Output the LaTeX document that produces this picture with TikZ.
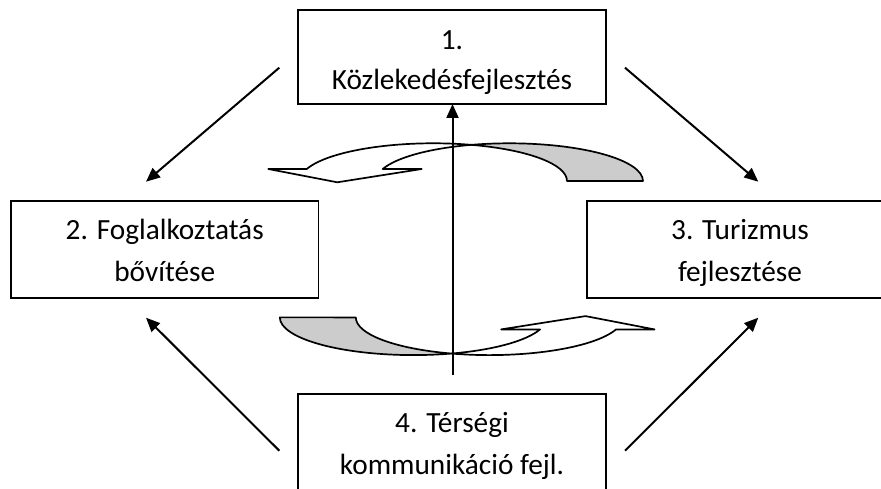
\documentclass[tikz,border=0pt]{standalone}
\usepackage{fontspec}
\setmainfont{Carlito}
\usetikzlibrary{arrows.meta}
\tikzset{
  x=1pt, y=1pt,
  boxnode/.style={draw=black, line width=1.8pt, fill=white, rectangle, inner sep=0pt, outer sep=0pt},
  lbl/.style={inner sep=0pt, anchor=base, font=\fontsize{29.3}{41}\selectfont},
  arr/.style={line width=2pt, -{Triangle[length=14pt,width=12pt]}},
  band/.style={draw=black, line width=1.7pt, line join=round},
  backface/.style={band, fill=black!20},
  frontface/.style={band, fill=white},
}
\newcommand{\curvedband}{%
  \path[backface] (471.4,343.14)
     arc[start angle=106.52, end angle=0, x radius=133.6pt, y radius=37.7pt]
     -- (567,307)
     arc[start angle=0, end angle=73.48, x radius=133.6pt, y radius=37.7pt]
     -- cycle;
  \path[frontface] (268.3,319) -- (306.75,319)
     arc[start angle=161.44, end angle=73.48, x radius=133.6pt, y radius=37.7pt]
     arc[start angle=106.52, end angle=161.44, x radius=133.6pt, y radius=37.7pt]
     -- (421.7,319) -- (337.3,305.7) -- cycle;
}
\begin{document}
\begin{tikzpicture}
\useasboundingbox (0,0) rectangle (881,488);
\clip (0,0) rectangle (881,488);
\fill[white] (0,0) rectangle (881,488);

% boxes
\node[boxnode, minimum width=308pt, minimum height=94pt] (n1) at (452,431) {};
\node[boxnode, minimum width=307.5pt, minimum height=97pt] (n2) at (164.75,238.5) {};
\node[boxnode, minimum width=306pt, minimum height=97pt] (n3) at (740,238.5) {};
\node[boxnode, minimum width=308pt, minimum height=96pt] (n4) at (452,46) {};

% texts
\node[lbl] (t1a) at ([yshift=-39.3pt]n1.north) {1.};
\node[lbl] (t1b) at ([yshift=-80pt]n1.north) {Közlekedésfejlesztés};
\node[lbl] (t2a) at ([yshift=-39pt]n2.north) {2. Foglalkoztatás};
\node[lbl] (t2b) at ([yshift=-80pt]n2.north) {bővítése};
\node[lbl] (t3a) at ([yshift=-39pt]n3.north) {3. Turizmus};
\node[lbl] (t3b) at ([yshift=-80pt]n3.north) {fejlesztése};
\node[lbl] (t4a) at ([yshift=-38pt]n4.north) {4. Térségi};
\node[lbl] (t4b) at ([yshift=-80pt]n4.north) {kommunikáció fejl.};

% curved arrows
\curvedband
\begin{scope}[rotate around={180:(461.4,238.8)}]
\curvedband
\end{scope}

% diagonal arrows
\coordinate (a1s) at (279.3,420.3);
\coordinate (a1e) at (146,306.3);
\coordinate (a2s) at (625,420.3);
\coordinate (a2e) at (758.3,306.3);
\coordinate (a3s) at (279.3,37.3);
\coordinate (a3e) at (146,170.3);
\coordinate (a4s) at (625,37.3);
\coordinate (a4e) at (758.3,170.3);
\draw[arr] (a1s) -- (a1e);
\draw[arr] (a2s) -- (a2e);
\draw[arr] (a3s) -- (a3e);
\draw[arr] (a4s) -- (a4e);

% vertical arrow
\coordinate (v0) at (452.5,113);
\draw[arr] (v0) -- (v0 |- n1.south);
\end{tikzpicture}
\end{document}
